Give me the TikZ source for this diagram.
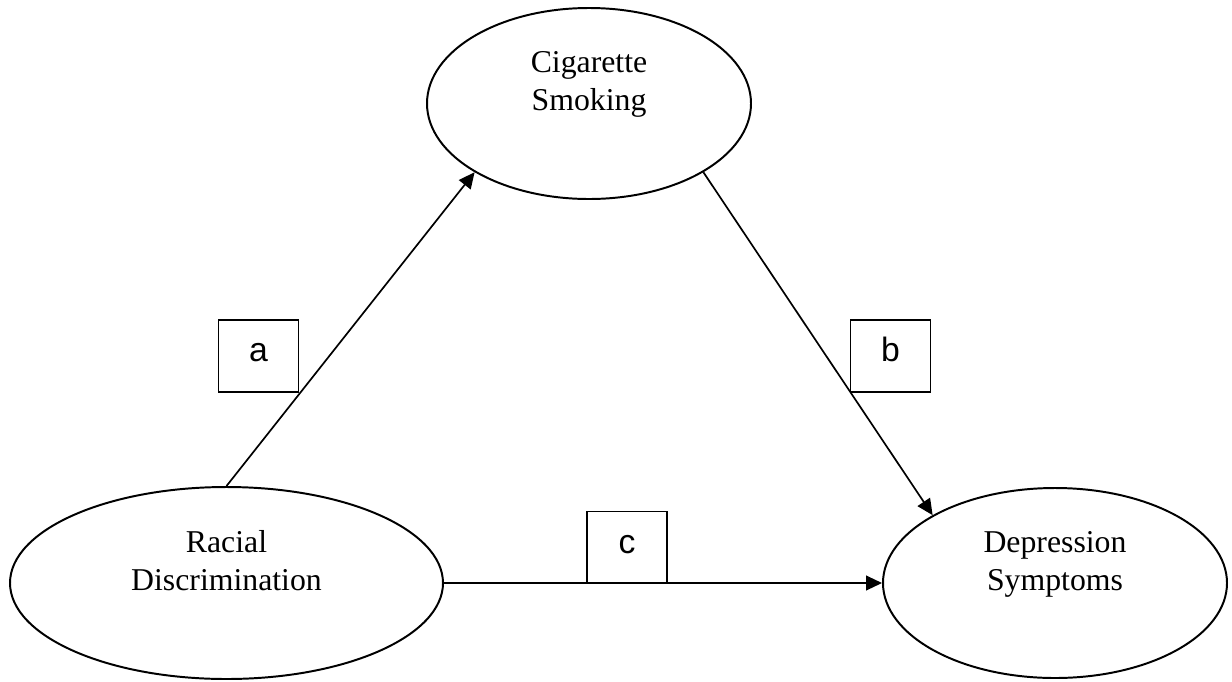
\documentclass[tikz,border=0pt]{standalone}
\usepackage{fontspec}
\setmainfont{Liberation Serif}
\newfontfamily\boxfont{Liberation Sans}
\usepackage{tikz}
\usetikzlibrary{arrows.meta}
\usetikzlibrary{shapes.geometric}
\usetikzlibrary{positioning}

\tikzset{
  var/.style={draw, ellipse, line width=1.4pt, inner sep=0pt},
  varname/.style={anchor=north, inner sep=0pt, align=center, font=\fontsize{22.6}{27}\selectfont},
  pathbox/.style={draw, line width=1.3pt, minimum width=2cm, minimum height=1.8cm, inner sep=0pt,
    text height=0.45cm, text depth=0.175cm, font=\boxfont\fontsize{24}{28}\selectfont},
  effect/.style={-{Triangle[length=0.4cm, width=0.37cm]}, line width=1.2pt}
}

\begin{document}
\begin{tikzpicture}
      \useasboundingbox (0, 0) rectangle (30.8, -17.025);

      \node[var, minimum width=8.1cm, minimum height=4.775cm] (smoke) at (14.725, -2.5875) {};
      \node[var, minimum width=10.825cm, minimum height=4.8cm] (disc) at (5.6625, -14.575) {};
      \node[var, minimum width=8.6cm, minimum height=4.75cm] (dep) at (26.375, -14.575) {};

      \node[varname] (smoketext) at ([yshift=-1.1cm]smoke.north) {Cigarette\\Smoking};
      \node[varname] (disctext) at ([yshift=-1.1cm]disc.north) {Racial\\Discrimination};
      \node[varname] (deptext) at ([yshift=-1.1cm]dep.north) {Depression\\Symptoms};

      \draw[effect] (disc.north) -- (smoke.211);
      \draw[effect] (smoke.329) -- (dep.151);
      \draw[effect] (disc.east) -- (dep.west);

      \node[pathbox] (a) at (6.4625, -8.9) {a};
      \node[pathbox] (b) at (22.2625, -8.9) {b};
      \node[pathbox] (c) at (15.675, -13.6875) {c};
    \end{tikzpicture}
\end{document}
